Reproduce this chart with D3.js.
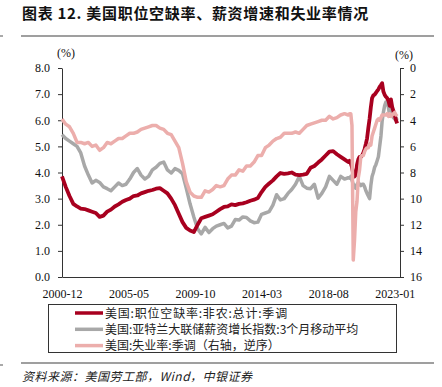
<!DOCTYPE html>
<html>
<head>
<meta charset="utf-8">
<script src="https://cdn.jsdelivr.net/npm/d3@7"></script>
<style>
  body { margin: 0; background: #fff; }
  svg { display: block; }
</style>
</head>
<body>
<svg id="chart" width="442" height="387"></svg>
<script>
// quarterly to 2019-12, monthly from 2020-01
const dates = [
    "2000-12",
    "2001-03","2001-06","2001-09","2001-12",
    "2002-03","2002-06","2002-09","2002-12",
    "2003-03","2003-06","2003-09","2003-12",
    "2004-03","2004-06","2004-09","2004-12",
    "2005-03","2005-06","2005-09","2005-12",
    "2006-03","2006-06","2006-09","2006-12",
    "2007-03","2007-06","2007-09","2007-12",
    "2008-03","2008-06","2008-09","2008-12",
    "2009-03","2009-06","2009-09","2009-12",
    "2010-03","2010-06","2010-09","2010-12",
    "2011-03","2011-06","2011-09","2011-12",
    "2012-03","2012-06","2012-09","2012-12",
    "2013-03","2013-06","2013-09","2013-12",
    "2014-03","2014-06","2014-09","2014-12",
    "2015-03","2015-06","2015-09","2015-12",
    "2016-03","2016-06","2016-09","2016-12",
    "2017-03","2017-06","2017-09","2017-12",
    "2018-03","2018-06","2018-09","2018-12",
    "2019-03","2019-06","2019-09","2019-12",
    "2020-01","2020-02","2020-03","2020-04","2020-05","2020-06","2020-07","2020-08","2020-09","2020-10","2020-11","2020-12",
    "2021-01","2021-02","2021-03","2021-04","2021-05","2021-06","2021-07","2021-08","2021-09","2021-10","2021-11","2021-12",
    "2022-01","2022-02","2022-03","2022-04","2022-05","2022-06","2022-07","2022-08","2022-09","2022-10","2022-11","2022-12",
    "2023-01","2023-02","2023-03"
]

// 美国:职位空缺率:非农:总计:季调 (left axis)
const jobOpenings = [
    3.85,
    3.45,3.1,2.8,2.7,   2.62,2.6,2.55,2.5,  2.45,2.3,2.35,2.5,  2.58,2.7,2.78,2.88,
    2.95,3.0,3.1,3.12,  3.2,3.25,3.3,3.33,  3.38,3.4,3.3,3.2,   3.0,2.75,2.42,2.1,
    1.88,1.78,1.72,2.0, 2.25,2.3,2.35,2.4,  2.5,2.6,2.68,2.7,   2.78,2.75,2.8,2.82,
    2.86,2.92,2.96,3.02, 3.25,3.45,3.58,3.7, 3.85,3.98,3.95,3.97, 4.0,3.92,3.9,3.92,
    3.95,4.18,4.25,4.38, 4.5,4.65,4.8,4.82, 4.7,4.6,4.5,4.4,
    4.45,4.35,4.2,3.95,3.85,3.9,4.3,4.5,4.6,4.6,4.65,4.75,
    4.9,5.1,5.3,5.7,6.05,6.5,6.85,6.95,6.98,7.05,7.12,7.18,
    7.28,7.35,7.42,7.1,6.98,6.9,6.85,6.75,6.55,6.8,6.5,6.35,
    6.2,6.0,5.88
]

// 美国:亚特兰大联储薪资增长指数:3个月移动平均 (left axis)
const wageGrowth = [
    5.45,
    5.3,5.2,5.1,5.0,    4.75,4.25,3.9,3.6,  3.7,3.62,3.45,3.38, 3.3,3.45,3.6,3.5,
    3.55,3.75,4.0,4.15, 3.9,3.75,3.85,4.1,  4.2,4.35,4.4,4.1,   3.98,4.15,4.08,3.95,
    3.4,2.8,2.3,1.85,   1.65,1.9,1.7,1.85,  1.95,2.0,2.05,1.88, 1.95,2.2,2.18,2.3,
    2.28,2.15,2.08,2.1, 2.4,2.45,2.5,2.75,  3.15,2.95,3.0,3.2,  3.35,3.55,3.85,3.5,
    3.4,3.38,3.55,3.02, 3.2,3.45,3.85,3.7,  3.55,3.85,3.75,3.8,
    3.78,3.85,3.7,3.55,3.45,3.4,3.55,3.62,3.55,3.5,3.55,3.55,
    3.45,3.3,3.2,3.1,3.0,3.5,3.85,4.0,4.2,4.3,4.45,4.6,
    5.0,5.4,5.95,6.3,6.55,6.7,6.7,6.5,6.15,6.7,6.4,6.1,
    6.05,6.1,6.0
]

// 美国:失业率:季调 (right axis, reversed)
const unemployment = [
    3.9,
    4.3,4.5,5.0,5.7,  5.7,5.8,5.7,6.0,  5.9,6.3,6.1,5.7,  5.8,5.6,5.4,5.4,
    5.2,5.0,5.0,4.9,  4.7,4.6,4.5,4.4,  4.4,4.6,4.7,5.0,  5.1,5.6,6.1,7.3,
    8.7,9.5,9.8,9.9,  9.9,9.4,9.5,9.3,  9.0,9.1,9.0,8.5,  8.2,8.2,7.8,7.9,
    7.5,7.5,7.2,6.7,  6.7,6.1,5.9,5.6,  5.4,5.3,5.0,5.0,  5.0,4.9,5.0,4.7,
    4.4,4.3,4.2,4.1,  4.0,4.0,3.7,3.9,  3.8,3.6,3.5,3.6,
    3.5,3.5,4.4,14.7,13.2,11.0,10.2,8.4,7.8,6.8,6.7,6.7,
    6.4,6.2,6.1,6.1,5.8,5.9,5.2,4.9,4.6,4.3,4.0,3.9,
    4.0,3.8,3.6,3.6,3.6,3.6,3.5,3.7,3.5,3.7,3.6,3.5,
    3.4,3.6,3.5
]

const xTicks = ["2000-12","2005-05","2009-10","2014-03","2018-08","2023-01"]
const leftTicks = [0,1,2,3,4,5,6,7,8]
const rightTicks = [0,2,4,6,8,10,12,14,16]

const legendNames = [
    "美国:职位空缺率:非农:总计:季调",
    "美国:亚特兰大联储薪资增长指数:3个月移动平均",
    "美国:失业率:季调（右轴，逆序）"
]

const redColor = "#a8001f"
const grayColor = "#a8a8a8"
const pinkColor = "#ecaeac"
const axisColor = "#333"
const cjk = "'Noto Sans CJK SC', sans-serif"
const serif = "'Liberation Serif', 'Times New Roman', serif"

const parseMonth = d3.timeParse("%Y-%m")
const fmtMonth = d3.timeFormat("%Y-%m")

const plot = {left: 62, right: 400, top: 68, bottom: 277}

const svg = d3.select("#chart")
svg.append("rect").attr("width", 442).attr("height", 387).attr("fill", "#fff")

// title + rules
svg.append("text")
    .attr("x", 22).attr("y", 19)
    .attr("font-family", cjk).attr("font-size", 15).attr("font-weight", "bold")
    .attr("letter-spacing", 0.7)
    .attr("fill", "#111")
    .text("图表 12. 美国职位空缺率、薪资增速和失业率情况")
svg.append("line")
    .attr("x1", 21).attr("x2", 434).attr("y1", 36).attr("y2", 36)
    .attr("stroke", "#7f7f7f").attr("stroke-width", 1.5)
svg.append("line")
    .attr("x1", 21).attr("x2", 434).attr("y1", 363).attr("y2", 363)
    .attr("stroke", "#7f7f7f").attr("stroke-width", 1.5)
// small marks at the left edge
svg.append("line").attr("x1", 0).attr("x2", 3).attr("y1", 36).attr("y2", 36).attr("stroke", "#555")
svg.append("line").attr("x1", 0).attr("x2", 3).attr("y1", 365).attr("y2", 365).attr("stroke", "#555")

// scales
const x = d3.scaleTime()
    .domain([new Date(2000, 11, 1), new Date(2023, 4, 9)])
    .range([plot.left, plot.right])
const yLeft = d3.scaleLinear().domain([0, 8]).range([plot.bottom, plot.top])
const yRight = d3.scaleLinear().domain([0, 16]).range([plot.top, plot.bottom])

// axes
const leftAxis = svg.append("g")
    .attr("transform", `translate(${plot.left},0)`)
    .call(d3.axisLeft(yLeft).tickValues(leftTicks).tickFormat(d3.format(".1f"))
        .tickSize(4).tickSizeOuter(0).tickPadding(8))
const rightAxis = svg.append("g")
    .attr("transform", `translate(${plot.right},0)`)
    .call(d3.axisRight(yRight).tickValues(rightTicks).tickFormat(d3.format("d"))
        .tickSize(4).tickSizeOuter(0).tickPadding(6))
const bottomAxis = svg.append("g")
    .attr("transform", `translate(0,${plot.bottom})`)
    .call(d3.axisBottom(x).tickValues(xTicks.map(parseMonth)).tickFormat(fmtMonth)
        .tickSize(0).tickSizeOuter(0).tickPadding(12))

for (const g of [leftAxis, rightAxis, bottomAxis]) {
    g.selectAll("path, line").attr("stroke", axisColor)
    g.selectAll("text").attr("font-family", serif).attr("font-size", 12).attr("fill", "#111")
}

// unit labels
svg.append("text").attr("x", 66).attr("y", 57).attr("text-anchor", "middle")
    .attr("font-family", serif).attr("font-size", 12).attr("fill", "#111").text("(%)")
svg.append("text").attr("x", 404).attr("y", 59).attr("text-anchor", "middle")
    .attr("font-family", serif).attr("font-size", 12).attr("fill", "#111").text("(%)")

// lines
const series = dates.map((d, i) => ({
    date: parseMonth(d),
    jobs: jobOpenings[i],
    wage: wageGrowth[i],
    unemp: unemployment[i]
}))

const lineWage = d3.line().x(d => x(d.date)).y(d => yLeft(d.wage))
const lineJobs = d3.line().x(d => x(d.date)).y(d => yLeft(d.jobs))
const lineUnemp = d3.line().x(d => x(d.date)).y(d => yRight(d.unemp))

const lineGroup = svg.append("g")
lineGroup.append("path").attr("d", lineWage(series))
    .attr("fill", "none").attr("stroke", grayColor).attr("stroke-width", 3.5).attr("stroke-linejoin", "round")
lineGroup.append("path").attr("d", lineJobs(series))
    .attr("fill", "none").attr("stroke", redColor).attr("stroke-width", 3.8).attr("stroke-linejoin", "round")
lineGroup.append("path").attr("d", lineUnemp(series))
    .attr("fill", "none").attr("stroke", pinkColor).attr("stroke-width", 3.5).attr("stroke-linejoin", "round")

// legend
const legend = svg.append("g")
legend.append("rect")
    .attr("x", 48.5).attr("y", 304.5).attr("width", 348).attr("height", 48)
    .attr("fill", "#fff").attr("stroke", axisColor).attr("stroke-width", 1)
const legendColors = [redColor, grayColor, pinkColor]
legendNames.forEach((name, i) => {
    const cy = 313 + i * 16.3
    legend.append("line")
        .attr("x1", 75).attr("x2", 103).attr("y1", cy).attr("y2", cy)
        .attr("stroke", legendColors[i]).attr("stroke-width", 3.5)
    legend.append("text")
        .attr("x", 105).attr("y", cy + 4.5)
        .attr("font-family", cjk).attr("font-size", 12).attr("fill", "#222")
        .attr("letter-spacing", i === 0 ? 0.8 : 0)
        .text(name)
})

// source
svg.append("text")
    .attr("x", 22).attr("y", 381)
    .attr("font-family", cjk).attr("font-size", 12).attr("font-style", "italic")
    .attr("letter-spacing", 0.5)
    .attr("fill", "#222")
    .text("资料来源：美国劳工部，Wind，中银证券")
</script>
</body>
</html>
